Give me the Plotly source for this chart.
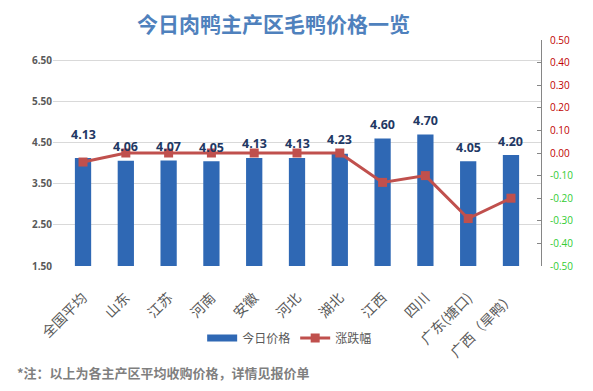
import plotly.graph_objects as go

categories = ["全国平均", "山东", "江苏", "河南", "安徽", "河北", "湖北", "江西", "四川", "广东(塘口)", "广西（旱鸭）"]
price_today = [4.13, 4.06, 4.07, 4.05, 4.13, 4.13, 4.23, 4.60, 4.70, 4.05, 4.20]
change = [-0.04, 0.00, 0.00, 0.00, 0.00, 0.00, 0.00, -0.13, -0.10, -0.29, -0.20]
left_ticks = [1.5, 2.5, 3.5, 4.5, 5.5, 6.5]
right_ticks = [0.5, 0.4, 0.3, 0.2, 0.1, 0.0, -0.1, -0.2, -0.3, -0.4, -0.5]

FONT = "Noto Sans CJK SC, Open Sans, sans-serif"
NUMFONT = "Open Sans, Noto Sans CJK SC, sans-serif"
BAR_COLOR = "#2f68b4"
LINE_COLOR = "#c0504d"

right_text = []
for v in right_ticks:
    c = "#c00000" if v >= 0 else "#33cc33"
    right_text.append(f"<span style='color:{c}'>{v:.2f}</span>")

fig = go.Figure()
# legend-only entry giving the wide rectangle swatch
fig.add_trace(go.Scatter(x=[categories[0]], y=[None], mode="lines", name="今日价格",
                         line=dict(color=BAR_COLOR, width=7)))
fig.add_trace(go.Bar(
    x=categories, y=price_today, name="今日价格", showlegend=False,
    marker=dict(color=BAR_COLOR, line=dict(width=0)),
    width=0.38,
))
fig.add_trace(go.Scatter(
    x=categories, y=change, name="涨跌幅", yaxis="y2", mode="lines+markers",
    line=dict(color=LINE_COLOR, width=3),
    marker=dict(symbol="square", size=9, color=LINE_COLOR),
))

# bar value labels
label_shift = [23] + [14] * (len(categories) - 1)
annotations = []
for cat, v, s in zip(categories, price_today, label_shift):
    annotations.append(dict(
        x=cat, y=v, xref="x", yref="y", text=f"<b>{v:.2f}</b>", showarrow=False,
        yshift=s, yanchor="middle", xanchor="center",
        font=dict(family=NUMFONT, size=12.5, color="#1f3864")))

W, H = 577, 375
annotations += [
    dict(text="<b>今日肉鸭主产区毛鸭价格一览</b>", xref="paper", yref="paper",
         x=(278 - 53) / 499, y=1 + (40 - 23) / 226, xanchor="center", yanchor="middle",
         showarrow=False, font=dict(family=FONT, size=21, color="#4f81bd")),
    dict(text="<b>*注：以上为各主产区平均收购价格，详情见报价单</b>", xref="paper", yref="paper",
         x=(14 - 53) / 499, y=-(372 - 266) / 226, xanchor="left", yanchor="middle",
         showarrow=False, font=dict(family=FONT, size=13, color="#7f7f7f")),
]

fig.update_layout(
    width=W, height=H,
    margin=dict(l=45, r=W - 544, t=32, b=H - 258),
    paper_bgcolor="white", plot_bgcolor="white",
    font=dict(family=FONT, color="#595959"),
    showlegend=True,
    legend=dict(orientation="h", x=(295 - 53) / 499, xanchor="center", y=-(338 - 266) / 226,
                yanchor="middle", font=dict(size=12, color="#595959"), itemwidth=30,
                bgcolor="rgba(0,0,0,0)"),
    xaxis=dict(type="category", categoryorder="array", categoryarray=categories,
               tickangle=-45, tickfont=dict(size=14, color="#595959"), showgrid=False,
               showline=False, ticks="", ticklabelstandoff=20),
    yaxis=dict(range=[1.5, 7.0], tickvals=left_ticks, ticktext=[f"{v:.2f}" for v in left_ticks],
               tickfont=dict(family=NUMFONT, size=10, color="#595959", weight="bold"),
               showgrid=True, gridcolor="#d9d9d9", gridwidth=1, zeroline=False, showline=False,
               ticks=""),
    yaxis2=dict(range=[-0.5, 0.5], overlaying="y", side="right", tickvals=right_ticks,
                ticktext=right_text, tickfont=dict(family=NUMFONT, size=10),
                showgrid=False, zeroline=False, showline=True, linecolor="#868686", linewidth=1,
                ticks="inside", ticklen=4, tickcolor="#868686", ticklabelstandoff=6),
    annotations=annotations,
)

fig.write_html("out.html")
